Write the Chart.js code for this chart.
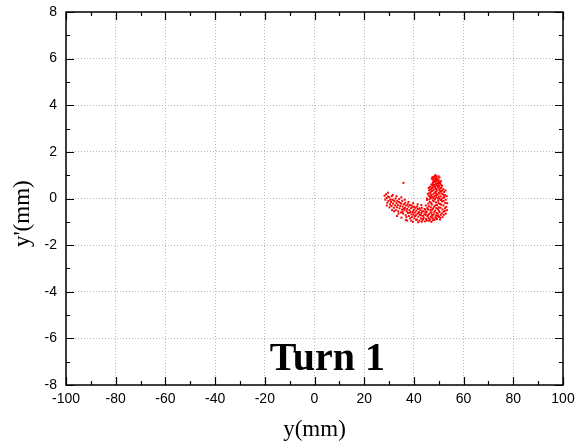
<!DOCTYPE html>
<html>
<head>
<meta charset="utf-8">
<script src="https://cdn.jsdelivr.net/npm/chart.js@4/dist/chart.umd.min.js"></script>
<style>
  html, body { margin: 0; padding: 0; background: #fff; }
  #wrap { width: 577px; height: 447px; }
</style>
</head>
<body>
<div id="wrap"><canvas id="c" width="577" height="447"></canvas></div>
<script>
// Beam particle positions after the first turn: y (mm) and y' (mm)
const posY = [
  28.2, 28.5, 29.0, 29.3, 29.8, 30.1, 30.4, 30.8, 31.0, 31.3,
  31.6, 31.9, 32.2, 32.4, 32.7, 33.0, 33.2, 33.5, 33.7, 34.0, 34.2, 34.5, 34.8, 35.0, 35.2,
  35.5, 35.7, 36.0, 36.2, 36.4, 36.7, 36.9, 37.1, 37.3, 37.6, 37.8, 38.0, 38.2, 38.4, 38.6,
  38.8, 39.0, 39.2, 39.4, 39.6, 39.8, 40.0, 40.2, 40.4, 40.6, 40.8, 41.0, 41.2, 41.4, 41.6,
  41.8, 42.0, 42.2, 42.4, 42.6, 42.8, 43.0, 43.2, 43.4, 43.6, 43.8, 44.0, 44.2, 44.4, 44.6,
  28.8, 29.6, 30.5, 31.1, 31.8, 32.6, 33.3, 34.1, 34.6, 35.3, 35.9, 36.5, 37.0, 37.5, 38.1,
  38.5, 39.1, 39.5, 40.1, 40.5, 40.9, 41.3, 41.9, 42.3, 42.9, 43.3, 43.7, 44.3, 44.8, 45.0,
  32.0, 33.8, 35.4, 36.8, 38.9, 30.2, 29.1,
  29.5, 31.5, 33.0, 34.9, 36.3, 37.8, 39.7, 41.5, 43.0, 31.2, 33.2, 35.0, 37.3, 39.6, 41.7, 43.1,
  35.8,
  48.6, 48.3, 49.0, 48.0, 49.5, 48.8, 47.8, 50.0, 49.2, 48.4, 50.4, 47.6, 49.7, 48.9, 50.8,
  48.1, 49.4, 47.4, 50.2,
  46.5, 48.6, 51.0, 47.3, 49.9, 51.8, 48.0, 46.2, 49.2, 50.6, 47.0, 52.2, 48.7, 50.0, 46.6,
  51.4, 47.8, 49.5, 52.5, 46.0, 48.2, 50.8, 47.3, 49.0, 51.8, 46.8, 50.2, 48.5, 52.8,
  45.3, 47.6, 49.8, 51.3, 46.4, 48.9, 52.6, 45.8, 50.5, 47.2, 49.3, 51.9, 46.0, 48.1, 53.0,
  50.0, 45.4, 47.7, 49.6, 51.5, 46.6, 48.6, 52.4, 45.1, 50.3, 47.1, 49.1, 51.2, 46.2, 48.0, 52.0,
  45.7, 47.5, 49.7, 46.8, 48.7, 50.6, 45.9, 47.9, 49.3, 46.5, 48.3,
  48.9, 48.2, 49.3, 48.5, 47.9, 49.8, 48.7, 50.5, 47.7, 49.0, 50.0, 48.4, 49.6, 47.8, 50.7,
  48.9, 46.9, 50.3, 51.4, 47.5, 49.0, 51.0, 48.3, 46.3, 50.4, 49.1, 47.0, 51.9, 48.9, 50.0,
  46.5, 52.2, 47.9, 49.7, 51.1, 46.2, 48.0, 50.9, 52.0, 47.0, 49.9, 51.0, 48.6, 46.8, 50.7,
  52.5, 49.0, 47.3, 45.7, 50.0, 51.9, 48.2, 46.7, 49.6, 50.8, 47.3, 45.4, 48.9, 50.1, 47.2,
  49.0, 46.1, 47.6, 44.9,
  47.2, 50.3, 49.9, 47.5, 50.9, 47.0, 51.3, 46.0, 52.7, 45.6, 53.2, 45.2, 53.4, 44.8, 53.3,
  52.8, 44.6, 51.5, 50.5, 45.2, 47.0
];
const slopeY = [
  0.12, -0.05, 0.02, -0.18, -0.10, 0.05, -0.25, -0.15, -0.32, -0.05,
  -0.22, -0.40, -0.12, -0.30, -0.50, -0.20, -0.38, -0.28, -0.55, -0.15, -0.42, -0.32, -0.60, -0.22, -0.48,
  -0.35, -0.65, -0.25, -0.50, -0.40, -0.72, -0.30, -0.55, -0.45, -0.62, -0.35, -0.75, -0.50, -0.28, -0.58,
  -0.42, -0.68, -0.80, -0.38, -0.55, -0.70, -0.48, -0.85, -0.60, -0.40, -0.72, -0.52, -0.90, -0.65, -0.45,
  -0.78, -0.58, -0.95, -0.70, -0.50, -0.85, -0.62, -0.40, -0.92, -0.75, -0.55, -0.82, -0.68, -0.98, -0.48,
  0.18, 0.08, -0.05, 0.10, -0.08, 0.00, -0.10, -0.02, -0.20, -0.10, -0.45, -0.18, -0.80, -0.25, -0.62,
  -0.85, -0.30, -0.60, -0.35, -0.75, -0.92, -0.35, -0.62, -0.42, -0.72, -0.55, -0.88, -0.45, -0.70, -0.60,
  -0.55, -0.65, -0.58, -0.92, -0.95, -0.38, -0.30,
  0.25, 0.15, 0.10, 0.05, -0.05, -0.15, -0.20, -0.25, -0.28, -0.50, -0.75, -0.82, -0.95, -1.00, -1.02, -1.00,
  0.67,
  1.00, 0.95, 0.93, 0.88, 0.86, 0.84, 0.80, 0.78, 0.76, 0.72, 0.70, 0.68, 0.66, 0.63, 0.60,
  0.58, 0.56, 0.55, 0.52,
  0.50, 0.48, 0.47, 0.45, 0.43, 0.40, 0.38, 0.36, 0.35, 0.32, 0.30, 0.28, 0.27, 0.25, 0.22,
  0.20, 0.18, 0.16, 0.14, 0.12, 0.10, 0.09, 0.06, 0.04, 0.03, 0.01, -0.01, -0.03, -0.05,
  -0.06, -0.08, -0.10, -0.12, -0.15, -0.17, -0.19, -0.22, -0.24, -0.26, -0.28, -0.30, -0.33, -0.35, -0.36,
  -0.38, -0.41, -0.43, -0.45, -0.47, -0.50, -0.52, -0.54, -0.56, -0.58, -0.60, -0.62, -0.64, -0.66, -0.68, -0.70,
  -0.72, -0.74, -0.75, -0.78, -0.80, -0.82, -0.84, -0.86, -0.88, -0.90, -0.92,
  0.97, 0.90, 0.82, 0.78, 0.74, 0.71, 0.68, 0.65, 0.62, 0.59, 0.57, 0.53, 0.50, 0.48, 0.44,
  0.41, 0.39, 0.37, 0.34, 0.33, 0.30, 0.29, 0.24, 0.26, 0.21, 0.19, 0.15, 0.16, 0.12, 0.08,
  0.07, 0.06, 0.02, 0.00, -0.02, -0.04, -0.12, -0.07, -0.10, -0.20, -0.20, -0.27, -0.30, -0.38, -0.40,
  -0.42, -0.41, -0.48, -0.47, -0.52, -0.57, -0.57, -0.60, -0.66, -0.70, -0.70, -0.76, -0.73, -0.78, -0.82,
  -0.84, -0.95, -0.93, -0.88,
  0.85, 0.90, 0.95, 0.92, 0.74, 0.60, 0.55, 0.45, 0.35, 0.20, 0.10, 0.00, -0.20, -0.30, -0.50,
  -0.65, -0.60, -0.80, -0.90, -0.95, -1.00
];

// Axis ranges and tick spacing
const xRange = [-100, 100];
const yRange = [-8, 8];
const xMajor = 20, xMinor = 10;
const yMajor = 2, yMinor = 1;
const xTitle = 'y(mm)';
const yTitle = "y'(mm)";
const panelLabel = 'Turn 1';
const panelLabelAt = [5.2, -7.36];

const points = posY.map((v, i) => ({ x: v, y: slopeY[i] }));

const tickFont = { family: '"Liberation Sans", Arial, sans-serif', size: 14 };
const titleFont = { family: '"Liberation Serif", "Times New Roman", serif', size: 23 };

// Closed frame with inward major/minor tick marks on all four sides,
// the vertical axis title (set a little below the axis middle) and the panel label
const frameTicks = {
  id: 'frameTicks',
  afterDatasetsDraw(chart) {
    const { ctx, chartArea: a, scales: { x, y } } = chart;
    ctx.save();
    ctx.strokeStyle = '#000';
    ctx.lineWidth = 1.2;
    ctx.beginPath();
    for (let v = xRange[0]; v <= xRange[1]; v += xMinor) {
      const px = Math.round(x.getPixelForValue(v)) + 0.5;
      const len = (v % xMajor === 0) ? 8 : 4;
      ctx.moveTo(px, a.bottom); ctx.lineTo(px, a.bottom - len);
      ctx.moveTo(px, a.top); ctx.lineTo(px, a.top + len);
    }
    for (let v = yRange[0]; v <= yRange[1]; v += yMinor) {
      const py = Math.round(y.getPixelForValue(v)) + 0.5;
      const len = (v % yMajor === 0) ? 8 : 4;
      ctx.moveTo(a.left, py); ctx.lineTo(a.left + len, py);
      ctx.moveTo(a.right, py); ctx.lineTo(a.right - len, py);
    }
    ctx.stroke();
    ctx.lineWidth = 1.5;
    ctx.strokeRect(a.left, a.top, a.right - a.left, a.bottom - a.top);

    ctx.fillStyle = '#000';
    ctx.save();
    ctx.translate(23, y.getPixelForValue(-0.65));
    ctx.rotate(-Math.PI / 2);
    ctx.font = titleFont.size + 'px ' + titleFont.family;
    ctx.textAlign = 'center';
    ctx.textBaseline = 'middle';
    ctx.fillText(yTitle, 0, 0);
    ctx.restore();

    ctx.font = 'bold 40px "Liberation Serif", "Times New Roman", serif';
    ctx.textAlign = 'center';
    ctx.textBaseline = 'alphabetic';
    ctx.fillText(panelLabel, x.getPixelForValue(panelLabelAt[0]), y.getPixelForValue(panelLabelAt[1]));
    ctx.restore();
  }
};

new Chart(document.getElementById('c'), {
  type: 'scatter',
  data: {
    datasets: [{
      data: points,
      pointStyle: 'rect',
      pointRadius: 1.4,
      pointBorderWidth: 0,
      backgroundColor: '#ff0000',
      borderColor: '#ff0000'
    }]
  },
  options: {
    responsive: false,
    animation: false,
    events: [],
    layout: { padding: { top: 12, right: 14, left: 0, bottom: 0 } },
    plugins: { legend: { display: false }, tooltip: { enabled: false } },
    scales: {
      x: {
        type: 'linear',
        min: xRange[0], max: xRange[1],
        afterFit(s) { s.height = 62; s.paddingLeft = 0; s.paddingRight = 0; },
        ticks: { stepSize: xMajor, color: '#000', font: tickFont, padding: 6, maxRotation: 0 },
        grid: { color: '#b8b8b8', lineWidth: 1, drawTicks: false },
        border: { display: false, dash: [1, 2] },
        title: { display: true, text: xTitle, color: '#000', font: titleFont, padding: { top: 0, bottom: 3 } }
      },
      y: {
        type: 'linear',
        min: yRange[0], max: yRange[1],
        afterFit(s) { s.width = 66; s.paddingTop = 0; s.paddingBottom = 0; },
        ticks: { stepSize: yMajor, color: '#000', font: tickFont, padding: 9 },
        grid: { color: '#b8b8b8', lineWidth: 1, drawTicks: false },
        border: { display: false, dash: [1, 2] },
        title: { display: false }
      }
    }
  },
  plugins: [frameTicks]
});
</script>
</body>
</html>
